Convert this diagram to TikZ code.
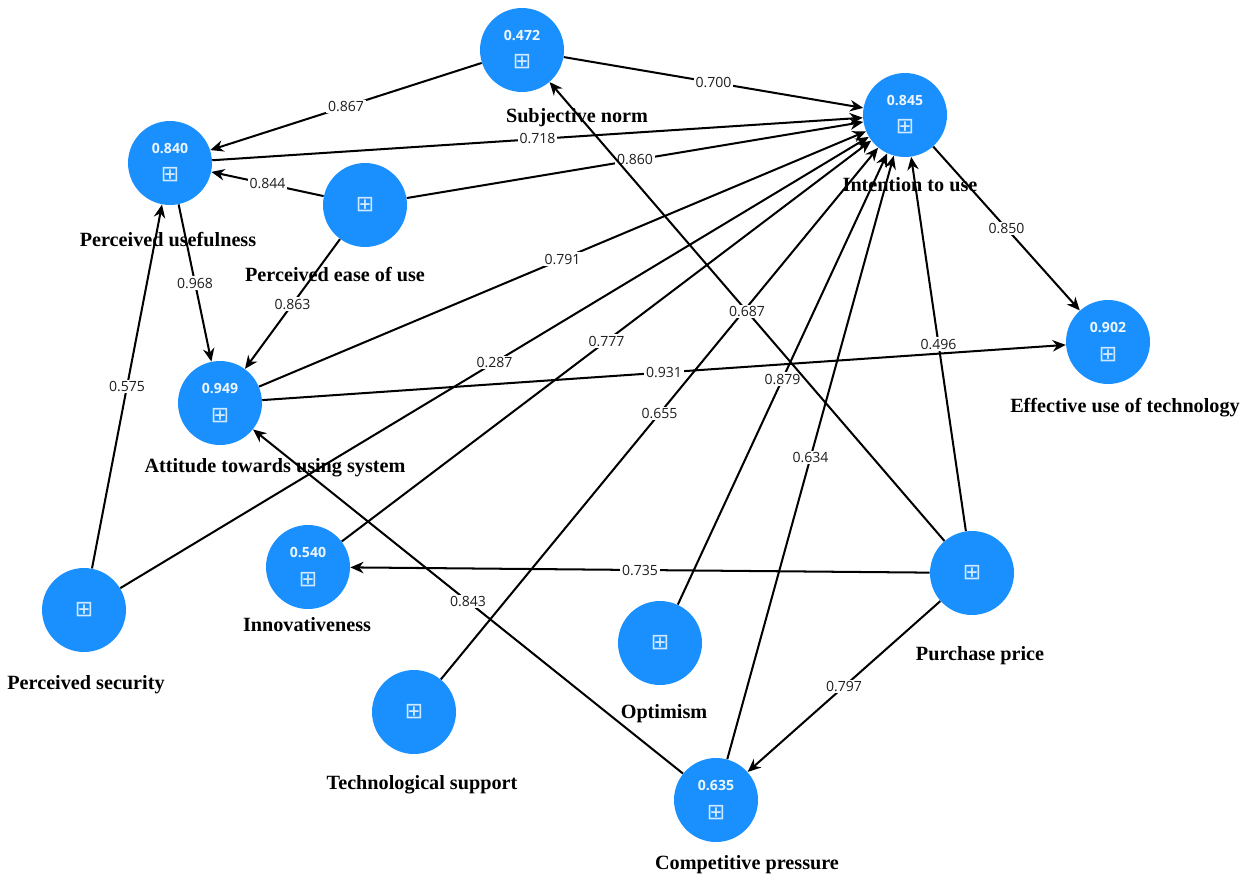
\documentclass[tikz,border=0pt]{standalone}
\usepackage{fontspec}
\setmainfont{Liberation Serif}
\newfontfamily\numfont{Open Sans}
\newfontfamily\iconfont{DejaVu Sans}
\usepackage{xcolor}
\usepackage{tikz}
\usetikzlibrary{arrows.meta, positioning}
\definecolor{plsblue}{HTML}{1A90FF}
\definecolor{plsgrey}{HTML}{1E1E1E}
\newcommand{\lvicon}{{\color{white!80!plsblue}\iconfont\fontsize{12.5}{12.5}\selectfont\char"229E}}
\newcommand{\lvval}[1]{{\color{white!92!plsblue}\numfont\bfseries\fontsize{8}{8}\selectfont #1}\\[4pt]\lvicon}

\begin{document}
\begin{tikzpicture}[x=0.02cm, y=-0.02cm,
  lv/.style={circle, fill=plsblue, text=white, minimum size=1.68cm, inner sep=0pt,
             align=center},
  lbl/.style={font=\fontsize{11.5}{12}\selectfont\bfseries, text=black, inner sep=1pt},
  wt/.style={fill=white, inner sep=1pt, text=plsgrey,
             font=\numfont\fontsize{8}{8}\selectfont},
  pth/.style={-{Stealth[length=7.5pt, width=6.5pt]}, line width=1.15pt, black}]
\useasboundingbox (0,0) rectangle (1257,879);
% constructs
\node[lv] (sn) at (522,50) {\lvval{0.472}};
\node[lv] (iu) at (905,115) {\lvval{0.845}};
\node[lv] (pu) at (170,163) {\lvval{0.840}};
\node[lv] (peou) at (365,205) {\lvicon};
\node[lv] (att) at (220,403) {\lvval{0.949}};
\node[lv] (eut) at (1108,342) {\lvval{0.902}};
\node[lv] (ps) at (84,610) {\lvicon};
\node[lv] (inn) at (308,567) {\lvval{0.540}};
\node[lv] (pp) at (972,573) {\lvicon};
\node[lv] (opt) at (660,643) {\lvicon};
\node[lv] (ts) at (414,712) {\lvicon};
\node[lv] (cp) at (716,800) {\lvval{0.635}};
% names
\node[lbl] (snl) at (577,118) {Subjective norm};
\node[lbl] (iul) at (910,185) {Intention to use};
\node[lbl] (pul) at (168,240) {Perceived usefulness};
\node[lbl] (peoul) at (335,275) {Perceived ease of use};
\node[lbl] (attl) at (275,468) {Attitude towards using system};
\node[lbl] (eutl) at (1125,408) {Effective use of technology};
\node[lbl] (psl) at (86,685) {Perceived security};
\node[lbl] (innl) at (307,625) {Innovativeness};
\node[lbl] (ppl) at (980,656) {Purchase price};
\node[lbl] (optl) at (664,714) {Optimism};
\node[lbl] (tsl) at (422,785) {Technological support};
\node[lbl] (cpl) at (747,865) {Competitive pressure};
% paths
\draw[pth] (sn)--node[wt]{0.867}(pu); \draw[pth] (sn)--node[wt]{0.700}(iu);
\draw[pth] (pu)--node[wt]{0.718}(iu); \draw[pth] (peou)--node[wt]{0.860}(iu);
\draw[pth] (peou)--node[wt]{0.844}(pu); \draw[pth] (peou)--node[wt]{0.863}(att);
\draw[pth] (pu)--node[wt]{0.968}(att); \draw[pth] (att)--node[wt]{0.791}(iu);
\draw[pth] (att)--node[wt]{0.931}(eut); \draw[pth] (iu)--node[wt]{0.850}(eut);
\draw[pth] (ps)--node[wt]{0.575}(pu); \draw[pth] (ps)--node[wt]{0.287}(iu);
\draw[pth] (inn)--node[wt]{0.777}(iu); \draw[pth] (ts)--node[wt]{0.655}(iu);
\draw[pth] (opt)--node[wt]{0.879}(iu); \draw[pth] (pp)--node[wt]{0.687}(sn);
\draw[pth] (pp)--node[wt]{0.496}(iu); \draw[pth] (pp)--node[wt]{0.735}(inn);
\draw[pth] (pp)--node[wt]{0.797}(cp); \draw[pth] (cp)--node[wt]{0.634}(iu);
\draw[pth] (cp)--node[wt]{0.843}(att);
\end{tikzpicture}
\end{document}
